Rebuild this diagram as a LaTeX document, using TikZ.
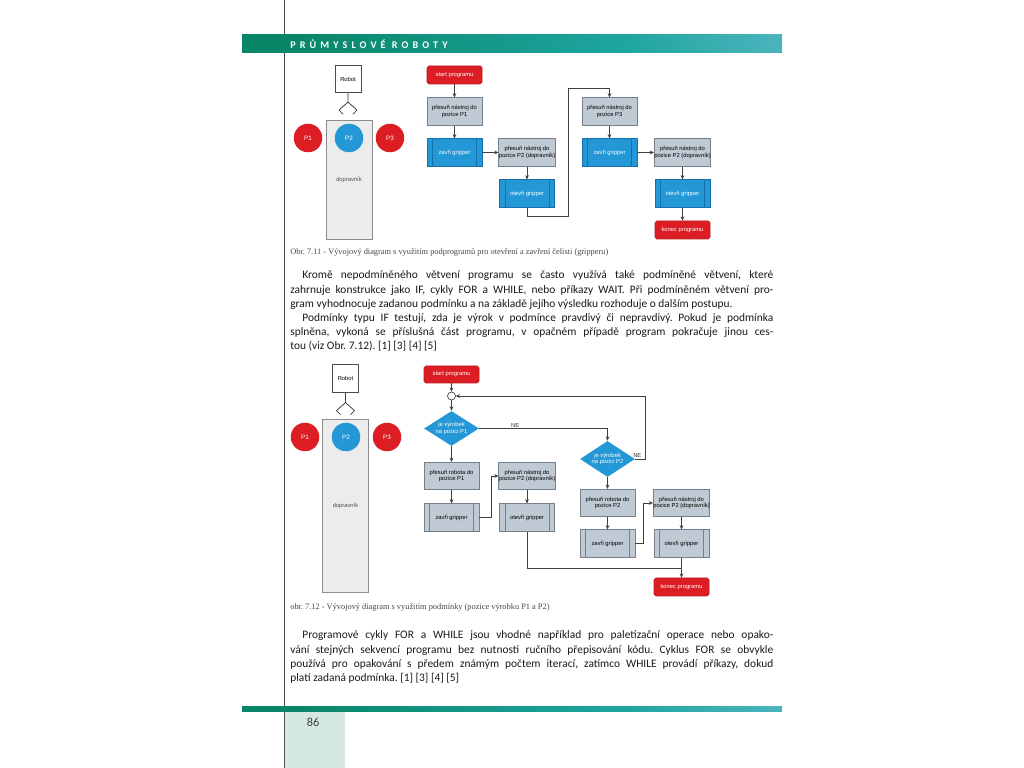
\documentclass[tikz,border=0pt]{standalone}
\usepackage{fontspec}
\setmainfont{Carlito}
\newfontfamily\flowfont{Liberation Sans}
\newfontfamily\capfont{Liberation Serif}
\newfontfamily\headfont[LetterSpace=40]{Carlito}
\usepackage{xcolor}
\usepackage{tikz}
\usetikzlibrary{shapes.geometric,arrows.meta,positioning,calc}
\frenchspacing

\definecolor{flowred}{RGB}{220,30,36}
\definecolor{flowblue}{RGB}{36,152,214}
\definecolor{blueedge}{RGB}{22,112,172}
\definecolor{boxgrey}{RGB}{192,202,212}
\definecolor{greyedge}{RGB}{118,128,140}
\definecolor{convgrey}{RGB}{236,236,236}
\definecolor{linkgrey}{RGB}{64,64,64}
\definecolor{bandA}{RGB}{8,134,104}
\definecolor{bandB}{RGB}{30,165,160}
\definecolor{bandC}{RGB}{150,206,236}
\definecolor{footgreen}{RGB}{214,233,224}
\definecolor{captext}{RGB}{70,70,70}
\definecolor{bodytext}{RGB}{25,25,25}

\pgfdeclarehorizontalshading{bandshade}{100bp}{color(0bp)=(bandA); color(30bp)=(bandA); color(60bp)=(bandB); color(100bp)=(bandC)}

\tikzset{
  flowtxt/.style={font=\flowfont\fontsize{3.3}{3.8}\selectfont, align=center, inner sep=0pt},
  termbox/.style={rectangle, rounded corners=1pt, draw=flowred!85!black, fill=flowred,
                  text=white, minimum width=11mm, minimum height=3.6mm, flowtxt},
  actbox/.style={rectangle, draw=greyedge, fill=boxgrey, minimum width=11mm,
                 minimum height=5.5mm, flowtxt},
  subedges/.style={path picture={\draw[#1]
      ([xshift=1.1mm]path picture bounding box.north west) -- ([xshift=1.1mm]path picture bounding box.south west)
      ([xshift=-1.1mm]path picture bounding box.north east) -- ([xshift=-1.1mm]path picture bounding box.south east);}},
  subgrey/.style={actbox, subedges=greyedge},
  subblue/.style={actbox, draw=blueedge, fill=flowblue, text=white, subedges=blueedge},
  decide/.style={diamond, aspect=1.6, fill=flowblue, text=white, minimum width=11mm,
                 minimum height=7mm, flowtxt},
  junction/.style={circle, draw=linkgrey, fill=white, minimum size=1.6mm, inner sep=0pt},
  robotbox/.style={rectangle, draw=black!70, fill=white, minimum width=5.2mm,
                   minimum height=5.5mm, flowtxt},
  conveyor/.style={rectangle, draw=black!45, fill=convgrey, minimum width=9.2mm,
                   flowtxt, text=black!70},
  spot/.style={circle, minimum size=5.7mm, text=white, inner sep=0pt,
               font=\flowfont\fontsize{3.6}{4}\selectfont},
  link/.style={draw=linkgrey, line width=0.45pt},
  flow/.style={link, -{Stealth[length=2.4pt, width=2.2pt]}},
  nolabel/.style={flowtxt, text=black!80},
  bodyline/.style={anchor=base west, inner sep=0pt, text=bodytext,
                   font=\fontsize{6.5}{7.7}\selectfont},
  caption/.style={anchor=base west, inner sep=0pt, text=captext,
                  font=\capfont\fontsize{4.75}{5.5}\selectfont},
}

\begin{document}
\begin{tikzpicture}[x=0.2mm, y=-0.2mm]

\fill[white] (0,0) rectangle (1024,768);
\useasboundingbox (0,0) rectangle (1024,768);

% ── Page frame: margin line, header and footer bands ───────
\draw[black!70, line width=0.4pt] (284,0) -- (284,768);
\shade[shading=bandshade] (242,35) rectangle (782,53);
\node[anchor=west, inner sep=0pt, text=white,
      font=\headfont\bfseries\fontsize{5.8}{6}\selectfont] (head) at (290,44)
      {PRŮMYSLOVÉ ROBOTY};
\shade[shading=bandshade] (242,707) rectangle (782,712);
\fill[footgreen] (284,712) rectangle (345,768);
\draw[black!70, line width=0.4pt] (284,712) -- (284,768);
\node[font=\fontsize{7}{8}\selectfont, text=black!75] (pgno) at (313,722) {86};

% ── Obr. 7.11: robot cell ──────────────────────────────────
\node[conveyor, minimum height=23.8mm] (conv@a) at (349,179.5) {dopravník};
\node[robotbox] (rob@a) at (348,79) {Robot};
\draw[link] (rob@a.south) -- ++(0,9) coordinate (grip@a) -- ++(-9,8) -- ++(4,4);
\draw[link] (grip@a) -- ++(9,8) -- ++(-4,4);
\node[spot, fill=flowred] (p1@a) at (308,138) {P1};
\node[spot, fill=flowblue] (p2@a) at (349,138) {P2};
\node[spot, fill=flowred] (p3@a) at (390,138) {P3};

% ── Obr. 7.11: flowchart with sub-programs ─────────────────
\node[termbox] (start@a) at (454.5,75) {start programu};
\node[actbox] (mv1@a) at (454.5,111.5) {přesuň nástroj do\\pozice P1};
\node[subblue] (cl1@a) at (454.5,152.5) {zavři gripper};
\node[actbox] (mv2@a) at (527,152.5) {přesuň nástroj do\\pozice P2 (dopravník)};
\node[subblue] (op1@a) at (527,193.5) {otevři gripper};
\node[actbox] (mv3@a) at (609.5,111.5) {přesuň nástroj do\\pozice P3};
\node[subblue] (cl2@a) at (609.5,152.5) {zavři gripper};
\node[actbox] (mv4@a) at (682.5,152.5) {přesuň nástroj do\\pozice P2 (dopravník)};
\node[subblue] (op2@a) at (682.5,193.5) {otevři gripper};
\node[termbox] (end@a) at (682.5,230) {konec programu};
\coordinate (bend1@a) at (568,216);
\coordinate (bend2@a) at (568,88);

\draw[flow] (start@a) -- (mv1@a);
\draw[flow] (mv1@a) -- (cl1@a);
\draw[flow] (cl1@a) -- (mv2@a);
\draw[flow] (mv2@a) -- (op1@a);
\draw[flow] (op1@a.south) |- (bend1@a) -- (bend2@a) -| (mv3@a.north);
\draw[flow] (mv3@a) -- (cl2@a);
\draw[flow] (cl2@a) -- (mv4@a);
\draw[flow] (mv4@a) -- (op2@a);
\draw[flow] (op2@a) -- (end@a);

\node[caption] (cap@a) at (290,254.5)
  {Obr. 7.11 - Vývojový diagram s využitím podprogramů pro otevření a zavření čelisti (gripperu)};

% ── Text between the figures ───────────────────────────────
\node[bodyline] (txt@1) at (302,279) {\makebox[94.2mm][s]{Kromě nepodmíněného větvení programu se často využívá také podmíněné větvení, které}};
\node[bodyline] (txt@2) at (290,293.2) {\makebox[96.6mm][s]{zahrnuje konstrukce jako IF, cykly FOR a WHILE, nebo příkazy WAIT. Při podmíněném větvení pro-}};
\node[bodyline] (txt@3) at (290,307.4) {gram vyhodnocuje zadanou podmínku a na základě jejího výsledku rozhoduje o dalším postupu.};
\node[bodyline] (txt@4) at (302,321.6) {\makebox[94.2mm][s]{Podmínky typu IF testují, zda je výrok v podmínce pravdivý či nepravdivý. Pokud je podmínka}};
\node[bodyline] (txt@5) at (290,335.8) {\makebox[96.6mm][s]{splněna, vykoná se příslušná část programu, v opačném případě program pokračuje jinou ces-}};
\node[bodyline] (txt@6) at (290,350) {tou (viz Obr. 7.12). [1] [3] [4] [5]};

% ── Obr. 7.12: robot cell ──────────────────────────────────
\node[conveyor, minimum height=34.6mm] (conv@b) at (345.5,505.5) {dopravník};
\node[robotbox] (rob@b) at (345.5,378.5) {Robot};
\draw[link] (rob@b.south) -- ++(0,10) coordinate (grip@b) -- ++(-9,8) -- ++(4,4);
\draw[link] (grip@b) -- ++(9,8) -- ++(-4,4);
\node[spot, fill=flowred] (p1@b) at (305,437) {P1};
\node[spot, fill=flowblue] (p2@b) at (346,437) {P2};
\node[spot, fill=flowred] (p3@b) at (387,437) {P3};

% ── Obr. 7.12: flowchart with conditions ───────────────────
\node[termbox, minimum height=3.4mm] (start@b) at (451.5,374.5) {start programu};
\node[junction] (join@b) at (451.5,396) {};
\node[decide] (if1@b) at (451.5,428.5) {je výrobek\\na pozici P1};
\node[actbox] (mv1@b) at (451.5,476) {přesuň robota do\\pozice P1};
\node[subgrey] (cl1@b) at (451.5,517.5) {zavři gripper};
\node[actbox] (mv2@b) at (527,476) {přesuň nástroj do\\pozice P2 (dopravník)};
\node[subgrey] (op1@b) at (527,517.5) {otevři gripper};
\node[decide, minimum height=7.2mm] (if2@b) at (607.5,459) {je výrobek\\na pozici P2};
\node[actbox] (mv3@b) at (607.5,503) {přesuň robota do\\pozice P2};
\node[subgrey] (cl2@b) at (607.5,543.5) {zavři gripper};
\node[actbox] (mv4@b) at (681.5,503) {přesuň nástroj do\\pozice P2 (dopravník)};
\node[subgrey] (op2@b) at (681.5,543.5) {otevři gripper};
\node[termbox] (end@b) at (681.5,587) {konec programu};
\coordinate (loop@b) at (645,396);
\coordinate (merge@b) at (681.5,568);

\draw[flow] (start@b) -- (join@b);
\draw[flow] (join@b) -- (if1@b);
\draw[flow] (if1@b) -- (mv1@b);
\draw[flow] (mv1@b) -- (cl1@b);
\draw[flow] (cl1@b.east) -- ++(12,0) |- (mv2@b.west);
\draw[flow] (mv2@b) -- (op1@b);
\draw[link] (op1@b.south) |- (merge@b);
\draw[flow] (if1@b.east) -| (if2@b.north)
      node[pos=0.14, above=0.5pt, nolabel]{NE};
\draw[flow] (if2@b.east) -| (loop@b)
      node[pos=0.1, above=0.5pt, nolabel]{NE} -- (join@b.east);
\draw[flow] (if2@b) -- (mv3@b);
\draw[flow] (mv3@b) -- (cl2@b);
\draw[flow] (cl2@b.east) -- ++(8,0) |- (mv4@b.west);
\draw[flow] (mv4@b) -- (op2@b);
\draw[flow] (op2@b) -- (end@b);

\node[caption] (cap@b) at (290,609.5)
  {obr. 7.12 - Vývojový diagram s využitím podmínky (pozice výrobku P1 a P2)};

% ── Text below the figures ─────────────────────────────────
\node[bodyline] (txt@7) at (302,639) {\makebox[94.2mm][s]{Programové cykly FOR a WHILE jsou vhodné například pro paletizační operace nebo opako-}};
\node[bodyline] (txt@8) at (290,653.2) {\makebox[96.6mm][s]{vání stejných sekvencí programu bez nutnosti ručního přepisování kódu. Cyklus FOR se obvykle}};
\node[bodyline] (txt@9) at (290,667.4) {\makebox[96.6mm][s]{používá pro opakování s předem známým počtem iterací, zatímco WHILE provádí příkazy, dokud}};
\node[bodyline] (txt@10) at (290,681.6) {platí zadaná podmínka. [1] [3] [4] [5]};

\end{tikzpicture}
\end{document}
